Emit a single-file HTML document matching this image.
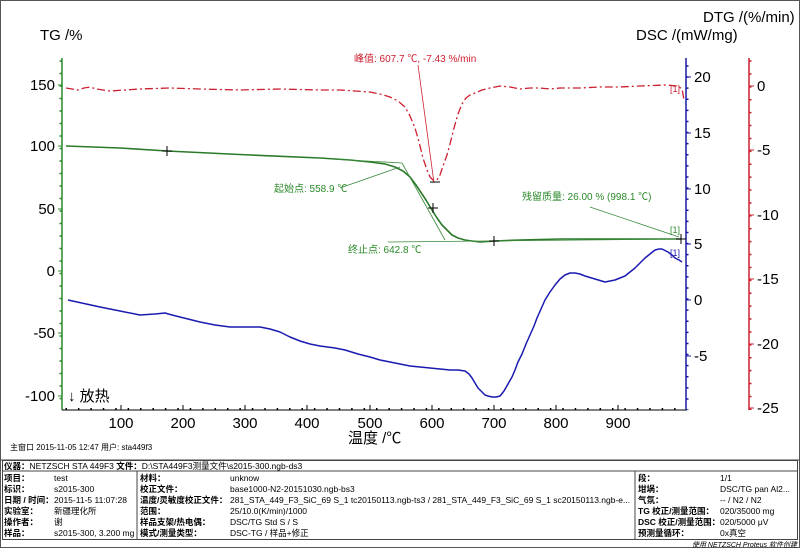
<!DOCTYPE html>
<html><head><meta charset="utf-8"><style>
body{margin:0;background:#fff;}
svg text{font-family:"Liberation Sans","Noto Sans CJK SC",sans-serif;}
</style></head><body>
<svg width="800" height="548" viewBox="0 0 800 548" xmlns="http://www.w3.org/2000/svg">
<rect x="0.5" y="0.5" width="799" height="547" fill="#fff" stroke="#555"/>
<text x="40" y="40" font-size="15" fill="#000">TG /%</text>
<text x="703" y="22" font-size="15" fill="#000">DTG /(%/min)</text>
<text x="636" y="40" font-size="15" fill="#000">DSC /(mW/mg)</text>
<!-- left axis -->
<line x1="62" y1="58" x2="62" y2="410" stroke="#2a8a2a" stroke-width="1.5"/>
<g stroke="#2a8a2a">
<line x1="58" y1="85" x2="62" y2="85"/><line x1="58" y1="146" x2="62" y2="146"/><line x1="58" y1="209" x2="62" y2="209"/><line x1="58" y1="271" x2="62" y2="271"/><line x1="58" y1="333" x2="62" y2="333"/><line x1="58" y1="396" x2="62" y2="396"/>
</g>
<g stroke="#2a8a2a" stroke-dasharray="1.5,11" stroke-width="3"><line x1="61" y1="60.2" x2="61" y2="410"/></g>
<g font-size="15" text-anchor="end" fill="#000">
<text x="55" y="90">150</text><text x="55" y="151">100</text><text x="55" y="214">50</text><text x="55" y="276">0</text><text x="55" y="338">-50</text><text x="55" y="401">-100</text>
</g>
<!-- bottom axis -->
<line x1="62" y1="410" x2="687" y2="410" stroke="#000"/>
<g stroke="#000">
<line x1="121" y1="405" x2="121" y2="410"/><line x1="183" y1="405" x2="183" y2="410"/><line x1="245" y1="405" x2="245" y2="410"/><line x1="307" y1="405" x2="307" y2="410"/><line x1="370" y1="405" x2="370" y2="410"/><line x1="432" y1="405" x2="432" y2="410"/><line x1="494" y1="405" x2="494" y2="410"/><line x1="556" y1="405" x2="556" y2="410"/><line x1="618" y1="405" x2="618" y2="410"/>
</g>
<g stroke="#000" stroke-dasharray="1.5,10.92" stroke-width="2"><line x1="65.5" y1="409" x2="686" y2="409"/></g>
<g font-size="15" text-anchor="middle" fill="#000">
<text x="121" y="428">100</text><text x="183" y="428">200</text><text x="245" y="428">300</text><text x="307" y="428">400</text><text x="370" y="428">500</text><text x="432" y="428">600</text><text x="494" y="428">700</text><text x="556" y="428">800</text><text x="618" y="428">900</text>
</g>
<text x="348" y="443" font-size="15" fill="#000">温度 /℃</text>
<text x="68" y="401" font-size="15" fill="#000">↓ 放热</text>
<!-- DSC axis -->
<line x1="686" y1="58" x2="686" y2="410" stroke="#1a1aa0" stroke-width="1.5"/>
<g stroke="#1a1aa0">
<line x1="686" y1="77" x2="691" y2="77"/><line x1="686" y1="133" x2="691" y2="133"/><line x1="686" y1="189" x2="691" y2="189"/><line x1="686" y1="244" x2="691" y2="244"/><line x1="686" y1="300" x2="691" y2="300"/><line x1="686" y1="356" x2="691" y2="356"/>
</g>
<g stroke="#1a1aa0" stroke-dasharray="1.5,9.6" stroke-width="3"><line x1="687" y1="65.2" x2="687" y2="410"/></g>
<g font-size="15" fill="#000">
<text x="694" y="82">20</text><text x="694" y="138">15</text><text x="694" y="194">10</text><text x="694" y="249">5</text><text x="694" y="305">0</text><text x="694" y="361">-5</text>
</g>
<!-- DTG axis -->
<line x1="749" y1="58" x2="749" y2="410" stroke="#cc2030" stroke-width="1.5"/>
<g stroke="#cc2030">
<line x1="749" y1="86" x2="754" y2="86"/><line x1="749" y1="150" x2="754" y2="150"/><line x1="749" y1="215" x2="754" y2="215"/><line x1="749" y1="279" x2="754" y2="279"/><line x1="749" y1="344" x2="754" y2="344"/><line x1="749" y1="408" x2="754" y2="408"/>
</g>
<g stroke="#cc2030" stroke-dasharray="1.5,11.4" stroke-width="3"><line x1="750" y1="60.3" x2="750" y2="410"/></g>
<g font-size="15" fill="#000">
<text x="757" y="91">0</text><text x="757" y="155">-5</text><text x="757" y="220">-10</text><text x="757" y="284">-15</text><text x="757" y="349">-20</text><text x="757" y="413">-25</text>
</g>
<!-- DSC curve -->
<polyline fill="none" stroke="#1a1ab0" stroke-width="1.5" stroke-linejoin="round" points="68,300 100,307 120,311 140,315 155,314 165,313 172,315 180,317 200,322 215,325 230,327 260,327 270,329 280,332 290,337 300,341 310,344 320,346 335,348 345,350 358,354 370,357 380,360 390,362 400,364 410,366 420,367 430,368 440,369 450,370 458,370 465,371 469,374 472,378 475,383 478,388 482,392 485,395 488,396 492,397 496,397 500,396 504,391 508,384 512,377 515,370 518,362 522,354 526,344 530,335 534,326 537,318 541,309 545,300 550,292 555,285 560,279 565,275 570,273 575,273 580,274 585,276 595,279 605,282 610,281 615,280 620,278 625,276 630,272 635,268 640,263 645,258 650,254 655,250 659,249 662,249 666,251 668,252 672,255 675,258 679,260 682,262"/>
<!-- DTG curve -->
<polyline fill="none" stroke="#cc2030" stroke-width="1.3" stroke-dasharray="8,3,2,3" stroke-linejoin="round" points="66,88 72,89 78,90 84,88 90,87 96,89 110,91 125,90 140,89 170,88 200,89 240,90 280,89 320,90 340,90 355,91 370,92 380,94 390,97 398,101 405,107 410,116 415,128 419,142 423,158 427,170 430,177 433,180 437,180 440,175 443,166 447,155 450,144 454,128 458,114 462,104 466,98 470,95 475,93 482,90 490,88 500,86 510,87 520,89 530,88 540,88 550,89 560,88 580,88 600,87 620,87 640,86 665,85 678,86 682,89 684,100"/>
<!-- TG curve -->
<polyline fill="none" stroke="#2a7a2a" stroke-width="1.6" stroke-linejoin="round" points="66,146 120,148 167,151 250,155 320,158 350,160 370,162 385,164 395,167 403,171 410,177 416,185 420,191 426,200 432,210 437,218 442,225 447,230 452,235 458,238 465,240 472,241 480,242 495,241 520,240 560,239 620,239 681,239"/>
<g stroke="#3a8a3a" stroke-width="0.8" fill="none">
<line x1="330" y1="159" x2="402" y2="163"/><line x1="402" y1="163" x2="445" y2="240"/>
<line x1="340" y1="188" x2="400" y2="167"/>
<line x1="388" y1="242" x2="680" y2="239"/>
<line x1="590" y1="207" x2="679" y2="237"/>
</g>
<line x1="418" y1="65" x2="434" y2="183" stroke="#cc2030" stroke-width="0.8"/>
<g stroke="#000" stroke-width="1">
<line x1="162" y1="151" x2="172" y2="151"/><line x1="167" y1="146" x2="167" y2="156"/>
<line x1="428" y1="208" x2="438" y2="208"/><line x1="433" y1="203" x2="433" y2="213"/>
<line x1="489" y1="241" x2="499" y2="241"/><line x1="494" y1="236" x2="494" y2="246"/>
<line x1="676" y1="239" x2="686" y2="239"/><line x1="681" y1="234" x2="681" y2="244"/>
<line x1="430" y1="182" x2="440" y2="182"/>
</g>
<g font-size="10">
<text x="354" y="62" fill="#cc2030">峰值: 607.7 ℃, -7.43 %/min</text>
<text x="274" y="192" fill="#2a8a2a">起始点: 558.9 ℃</text>
<text x="522" y="200" fill="#2a8a2a">残留质量: 26.00 % (998.1 ℃)</text>
<text x="348" y="253" fill="#2a8a2a">终止点: 642.8 ℃</text>
<text x="670" y="233" fill="#2a8a2a" font-size="9">[1]</text>
<text x="670" y="256" fill="#1a1ab0" font-size="9">[1]</text>
<text x="670" y="92" fill="#cc2030" font-size="9">[1]</text>
</g>
<text x="10" y="450" font-size="8" fill="#000">主窗口   2015-11-05 12:47    用户: sta449f3</text>
<line x1="0" y1="460" x2="800" y2="460" stroke="#444"/>
<rect x="2.5" y="460.5" width="795" height="79" fill="none" stroke="#444"/>
<line x1="2" y1="471" x2="798" y2="471" stroke="#444"/>
<line x1="137" y1="471" x2="137" y2="540" stroke="#444"/>
<line x1="635" y1="471" x2="635" y2="540" stroke="#444"/>
<g font-size="8.5" fill="#000">
<text x="4" y="469"><tspan font-weight="bold">仪器：</tspan>NETZSCH STA 449F3  <tspan font-weight="bold">文件：</tspan>D:\STA449F3测量文件\s2015-300.ngb-ds3</text>
<g font-weight="bold">
<text x="4" y="481">项目：</text><text x="4" y="492">标识：</text><text x="4" y="503">日期 / 时间：</text><text x="4" y="514">实验室：</text><text x="4" y="525">操作者：</text><text x="4" y="536">样品：</text>
<text x="140" y="481">材料：</text><text x="140" y="492">校正文件：</text><text x="140" y="503">温度/灵敏度校正文件：</text><text x="140" y="514">范围：</text><text x="140" y="525">样品支架/热电偶：</text><text x="140" y="536">模式/测量类型：</text>
<text x="638" y="481">段：</text><text x="638" y="492">坩埚：</text><text x="638" y="503">气氛：</text><text x="638" y="514">TG 校正/测量范围：</text><text x="638" y="525">DSC 校正/测量范围：</text><text x="638" y="536">预测量循环：</text>
</g>
<text x="54" y="481">test</text><text x="54" y="492">s2015-300</text><text x="54" y="503">2015-11-5 11:07:28</text><text x="54" y="514">新疆理化所</text><text x="54" y="525">谢</text><text x="54" y="536">s2015-300, 3.200 mg</text>
<text x="230" y="481">unknow</text><text x="230" y="492">base1000-N2-20151030.ngb-bs3</text><text x="230" y="503">281_STA_449_F3_SiC_69 S_1 tc20150113.ngb-ts3 / 281_STA_449_F3_SiC_69 S_1 sc20150113.ngb-e...</text><text x="230" y="514">25/10.0(K/min)/1000</text><text x="230" y="525">DSC/TG Std S / S</text><text x="230" y="536">DSC-TG / 样品+修正</text>
<text x="720" y="481">1/1</text><text x="720" y="492">DSC/TG pan Al2...</text><text x="720" y="503">-- / N2 / N2</text><text x="720" y="514">020/35000 mg</text><text x="720" y="525">020/5000 μV</text><text x="720" y="536">0x真空</text>
</g>
<text x="797" y="547" font-size="7" font-style="italic" text-anchor="end" fill="#000">使用 NETZSCH Proteus 软件创建</text>
</svg>
</body></html>
